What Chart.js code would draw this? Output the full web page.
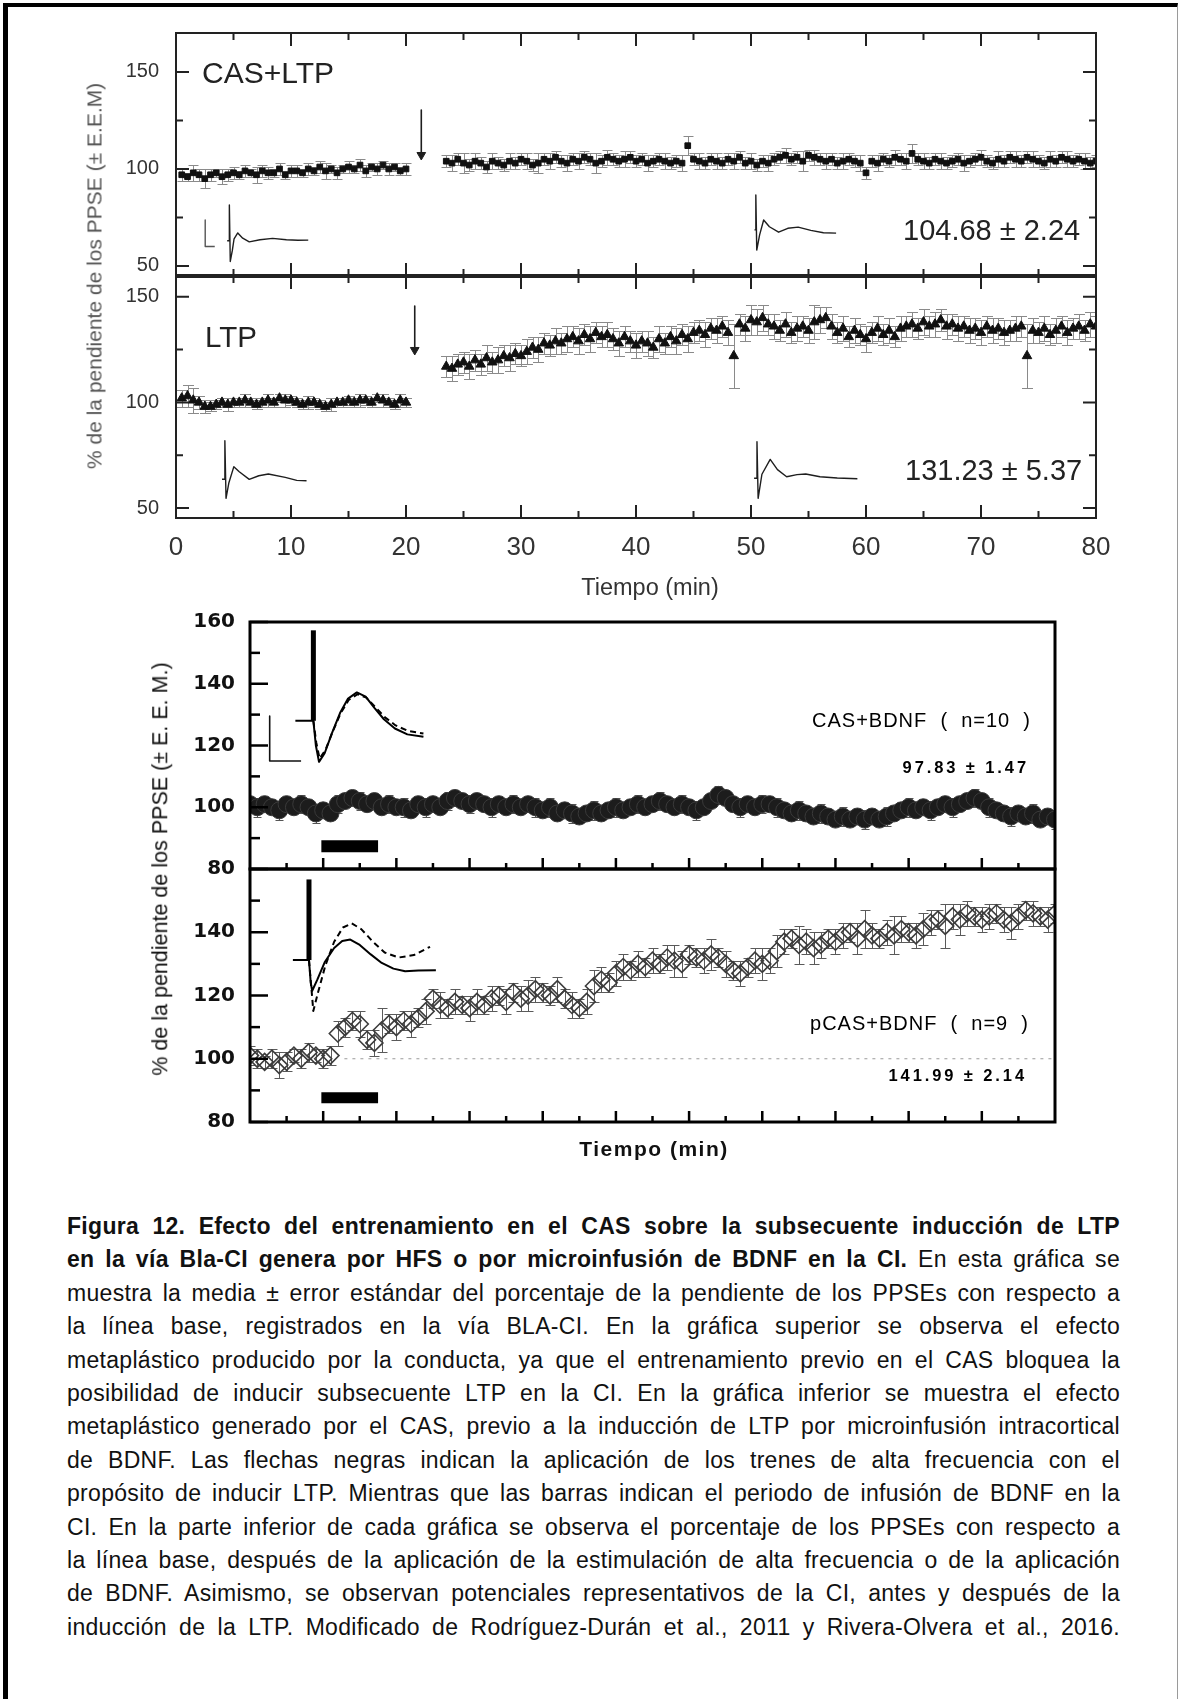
<!DOCTYPE html>
<html lang="es">
<head>
<meta charset="utf-8">
<title>Figura 12</title>
<script src="https://cdn.jsdelivr.net/npm/chart.js@4.4.1/dist/chart.umd.min.js"></script>
<style>
  html, body { margin: 0; padding: 0; background: #fff; }
  body { width: 1180px; height: 1699px; position: relative; overflow: hidden;
         font-family: "Liberation Sans", Arial, sans-serif; }
  .frame { position: absolute; left: 3px; top: 3px; width: 1169px; height: 1720px;
           border-left: 5px solid #000; border-top: 4px solid #000; border-right: 1px solid #9a9a9a; }
  canvas { position: absolute; left: 0; }
  .t { position: absolute; transform: translateY(-50%); line-height: 1; white-space: pre; color: #222; z-index: 5; }
  .c { position: absolute; transform: translate(-50%, -50%); line-height: 1; white-space: pre; z-index: 5; }
  .yt { position: absolute; transform: translate(-50%, -50%) rotate(-90deg); line-height: 1; white-space: pre; z-index: 5; }
  .bold { font-weight: bold; }
  .caption { position: absolute; left: 67px; top: 1210px; width: 1053px; font-size: 23px;
             letter-spacing: 0.3px; color: #111; }
  .caption div { height: 33.4px; line-height: 33.4px; text-align: justify; text-align-last: justify; }
</style>
</head>
<body>
<div class="frame"></div>

<!-- top figure -->
<div class="yt" style="left:94px;top:276px;font-size:21px;color:#555;">% de la pendiente de los PPSE (± E.E.M)</div>
<div class="t" style="left:202px;top:73px;font-size:30px;">CAS+LTP</div>
<div class="t" style="left:903px;top:230px;font-size:29px;">104.68 ± 2.24</div>
<div class="t" style="left:205px;top:337px;font-size:29.5px;">LTP</div>
<div class="t" style="left:905px;top:470px;font-size:29px;">131.23 ± 5.37</div>
<div class="c" style="left:650px;top:588px;font-size:23.5px;color:#333;">Tiempo (min)</div>

<!-- bottom figure -->
<div class="yt" style="left:161px;top:869px;font-size:21.5px;color:#111;">% de la pendiente de los PPSE (± E. E. M.)</div>
<div class="t" style="right:149px;top:720px;font-size:20px;letter-spacing:1px;color:#000;">CAS+BDNF  (  n=10  )</div>
<div class="t bold" style="right:151px;top:767px;font-size:16.5px;letter-spacing:2.9px;color:#000;">97.83 ± 1.47</div>
<div class="t" style="right:151px;top:1023px;font-size:20px;letter-spacing:1px;color:#000;">pCAS+BDNF  (  n=9  )</div>
<div class="t bold" style="right:153px;top:1075px;font-size:16.5px;letter-spacing:2.9px;color:#000;">141.99 ± 2.14</div>
<div class="c bold" style="left:654px;top:1148px;font-size:21px;letter-spacing:1.5px;color:#111;">Tiempo (min)</div>

<div class="caption">
  <div><b>Figura 12. Efecto del entrenamiento en el CAS sobre la subsecuente inducción de LTP</b></div>
  <div><b>en la vía Bla-CI genera por HFS o por microinfusión de BDNF en la CI.</b> En esta gráfica se</div>
  <div>muestra la media ± error estándar del porcentaje de la pendiente de los PPSEs con respecto a</div>
  <div>la línea base, registrados en la vía BLA-CI. En la gráfica superior se observa el efecto</div>
  <div>metaplástico producido por la conducta, ya que el entrenamiento previo en el CAS bloquea la</div>
  <div>posibilidad de inducir subsecuente LTP en la CI. En la gráfica inferior se muestra el efecto</div>
  <div>metaplástico generado por el CAS, previo a la inducción de LTP por microinfusión intracortical</div>
  <div>de BDNF. Las flechas negras indican la aplicación de los trenes de alta frecuencia con el</div>
  <div>propósito de inducir LTP. Mientras que las barras indican el periodo de infusión de BDNF en la</div>
  <div>CI. En la parte inferior de cada gráfica se observa el porcentaje de los PPSEs con respecto a</div>
  <div>la línea base, después de la aplicación de la estimulación de alta frecuencia o de la aplicación</div>
  <div>de BDNF. Asimismo, se observan potenciales representativos de la CI, antes y después de la</div>
  <div>inducción de la LTP. Modificado de Rodríguez-Durán et al., 2011 y Rivera-Olvera et al., 2016.</div>
</div>

<script>
// ---- top figure data (HFS) ----
const preTime = [0.5,1,1.5,2,2.5,3,3.5,4,4.5,5,5.5,6,6.5,7,7.5,8,8.5,9,9.5,10,
  10.5,11,11.5,12,12.5,13,13.5,14,14.5,15,15.5,16,16.5,17,17.5,18,18.5,19,19.5,20];
const postTime = [23.5,24,24.5,25,25.5,26,26.5,27,27.5,28,28.5,
  29,29.5,30,30.5,31,31.5,32,32.5,33,33.5,34,
  34.5,35,35.5,36,36.5,37,37.5,38,38.5,39,39.5,
  40,40.5,41,41.5,42,42.5,43,43.5,44,44.5,45,
  45.5,46,46.5,47,47.5,48,48.5,49,49.5,50,50.5,
  51,51.5,52,52.5,53,53.5,54,54.5,55,55.5,56,
  56.5,57,57.5,58,58.5,59,59.5,60,60.5,61,61.5,
  62,62.5,63,63.5,64,64.5,65,65.5,66,66.5,67,
  67.5,68,68.5,69,69.5,70,70.5,71,71.5,72,72.5,
  73,73.5,74,74.5,75,75.5,76,76.5,77,77.5,78,
  78.5,79,79.5,80];

const casLtpPre = [97,96,98,97,95,97,98,96,97,98, 97,99,98,97,99,98,98,100,97,99,
  99,98,100,99,101,99,100,98,100,101, 100,102,99,101,100,102,100,101,99,100];
const casLtpPreErr = [3,2,4,3,5,3,2,4,3,3, 2,3,2,4,3,3,2,3,2,3, 3,2,3,2,3,4,2,3,2,3, 2,3,3,2,3,2,3,2,2,3];
const casLtpPost = [104,103,105,103,102,104,103,101,104,103,102,
  104,103,105,104,102,103,105,104,106,104,103,
  105,104,106,105,103,104,106,105,104,105,106,
  104,105,103,104,105,104,103,104,103,112,105,
  104,103,105,104,103,105,104,106,103,104,102,
  104,103,105,106,107,105,106,104,107,106,105,
  104,105,103,104,105,104,103,98,104,103,105,
  104,106,105,104,108,105,104,103,105,104,103,
  104,105,103,104,105,106,104,103,105,104,106,
  105,104,106,105,104,103,105,104,106,105,104,
  105,104,103,104];
const casLtpPostErr = [3,4,3,5,3,4,3,3,4,3,3, 4,3,3,4,3,5,3,4,3,3,4, 3,4,3,3,5,3,4,3,3,4,3,
  3,3,4,3,3,4,3,3,4,5,3, 4,3,3,4,3,3,4,3,3,4,3, 3,4,3,3,4,3,3,5,3,4,3,
  4,3,3,4,3,3,4,3,3,4,3, 3,4,3,4,5,3,4,3,3,4,3, 3,3,4,3,3,4,3,3,4,3,3,
  4,3,3,4,3,3,4,3,3,4,3, 3,4,3,3];

const ltpPre = [102,103,101,100,98,98,99,100,99,100, 100,101,100,99,100,101,100,102,101,101,
  100,99,100,100,99,98,99,100,100,101, 100,101,101,100,102,101,100,99,101,100];
const ltpPreErr = [4,5,6,3,3,2,2,2,3,2, 2,3,2,2,2,3,2,2,3,2, 2,2,3,2,2,2,3,2,2,2, 2,3,2,2,2,3,2,2,3,2];
const ltpPost = [117,116,118,119,117,120,118,121,119,120,122,
  121,123,122,124,126,125,128,127,129,128,130,
  131,129,132,130,133,131,132,130,128,131,129,
  127,129,128,126,130,128,131,129,132,130,133,
  134,132,135,134,136,133,122,137,135,139,138,
  140,137,136,134,137,133,135,136,134,138,139,
  140,136,133,135,131,134,132,130,133,135,132,
  134,131,135,136,137,135,138,136,137,139,136,
  137,135,136,134,135,133,136,134,135,133,134,
  135,136,122,134,133,135,132,134,136,133,135,
  136,134,137,136];
const ltpPostErr = [5,6,5,5,6,5,5,6,5,6,5, 6,5,5,6,5,6,5,5,6,5,6, 5,6,5,6,5,5,6,5,6,5,5,
  6,5,6,5,6,5,5,6,5,6,5, 5,6,5,6,5,6,15,5,6,7,6, 6,5,6,5,6,5,6,5,6,8,6,
  5,6,5,6,5,6,5,6,5,6,5, 6,5,6,5,6,5,6,5,6,5,6, 5,6,5,6,5,6,5,6,5,6,5,
  6,5,15,6,5,6,5,6,5,6,5, 6,5,6,5];

// top figure axes
const topXLabels = [0,10,20,30,40,50,60,70,80];
const topXMinor = [5,15,25,35,45,55,65,75];
const topYLabels = [50,100,150];
const topYMinor = [75,125];

// top figure insets (x in min, y in %), HFS arrows
const traceA1 = [[4.45,63],[4.62,63],[4.64,81.4],[4.72,52.3],[4.9,58],[5.05,64],[5.37,67],[5.8,64.3],
  [6.37,62.4],[7.3,63.5],[8.4,64.2],[9.6,63.5],[10.6,63.2],[11.5,63.3]];
const traceA2 = [[50.3,68.6],[50.4,68.6],[50.42,86.6],[50.5,58.2],[50.75,66],[51.1,73.7],[51.6,70.2],
  [52.4,67.4],[53.2,69.4],[54.1,70],[55.2,68.3],[56.3,67.1],[57.4,66.9]];
const scaleBarA = [[2.54,73.7],[2.54,60],[3.37,60]];
const arrowA = [[21.33,130.4],[21.33,107]];
const arrowHeadA = [[21.33,107.2]];
const traceB1 = [[4.0,63.6],[4.22,63.6],[4.25,81.9],[4.35,54.6],[4.6,62],[5.03,69.6],[5.5,67.2],
  [6.37,63.6],[7.2,65.3],[8.03,66.1],[9.5,64.5],[10.5,63.1],[11.35,62.9]];
const traceB2 = [[50.27,64.1],[50.5,64.1],[50.52,81.4],[50.62,54.6],[50.95,66],[51.67,73],[52.3,68.2],
  [53.1,64.8],[54.0,65.8],[54.76,66.1],[56,64.8],[57.5,64.2],[59.25,63.9]];
const arrowB = [[20.76,145.6],[20.76,125]];
const arrowHeadB = [[20.76,124.8]];

// ---- bottom figure data (BDNF) ----
const bdnfTime = [0,1,2,3,4,5,6,7,8,9,10,11,12,13,14,15,16,17,18,19,20,
  21,22,23,24,25,26,27,28,29,30,31,32,33,34,35,36,37,38,39,40,
  41,42,43,44,45,46,47,48,49,50,51,52,53,54,55,56,57,58,59,60,
  61,62,63,64,65,66,67,68,69,70,71,72,73,74,75,76,77,78,79,80,
  81,82,83,84,85,86,87,88,89,90,91,92,93,94,95,96,97,98,99,100,
  101,102,103,104,105,106,107,108,109,110];
const casBdnf = [101,100,101,100,99,101,100,101,100,98,99,
  98,101,102,103,102,101,102,100,101,100,
  100,99,101,100,101,100,102,103,102,101,
  102,101,100,101,100,101,100,101,100,99,
  100,98,99,98,97,98,99,98,99,100,
  99,100,101,100,101,102,101,100,101,100,
  99,100,102,104,103,101,100,101,100,101,
  101,100,99,98,99,98,97,98,97,96,
  97,96,97,96,97,96,97,98,99,100,
  99,100,99,100,101,100,101,102,103,102,
  100,99,98,97,98,97,98,96,97,96];
const casBdnfErr = [2,3,2,2,3,2,2,3,2,3,2, 2,3,2,2,3,2,2,2,3,2, 3,2,2,3,2,2,3,2,2,3,
  2,2,3,2,2,3,2,2,3,2, 3,2,2,3,2,2,3,2,2,3, 2,2,3,2,2,3,2,2,3,2, 3,2,2,3,2,2,3,2,2,3,
  2,3,2,2,3,2,2,3,2,2, 3,2,2,3,2,2,3,2,2,3, 2,2,3,2,2,3,2,2,3,2, 3,2,2,3,2,2,3,2,2,3];
const pCasBdnf = [101,100,99,100,98,99,101,100,102,101,100,
  101,108,110,112,111,106,105,109,111,110,
  112,111,113,115,119,117,116,118,117,116,
  118,117,119,120,118,121,119,120,122,121,
  120,122,119,117,116,118,123,125,124,127,
  129,128,130,129,131,130,132,131,130,133,
  132,131,133,132,130,128,127,129,131,130,
  131,134,137,138,136,137,135,136,138,137,
  139,140,138,141,139,138,140,139,141,140,
  139,141,143,144,142,145,144,146,145,144,
  145,146,144,143,145,147,146,145,144,146];
const pCasBdnfErr = [3,3,2,3,4,3,2,3,3,2,3, 3,4,3,3,4,3,4,7,3,4, 3,4,3,4,3,4,3,4,3,4,
  4,3,4,3,4,3,4,5,4,3, 3,4,3,4,3,4,5,4,3,4, 4,3,4,3,4,3,4,5,4,3, 3,4,5,3,4,3,4,3,4,5,
  4,5,4,3,6,4,5,4,3,4, 4,3,5,6,4,3,4,6,4,3, 4,5,4,3,7,4,5,4,3,4, 4,3,4,5,4,3,4,3,4,3];

const botXMajor = [10,20,30,40,50,60,70,80,90,100];
const botXMinor = [5,15,25,35,45,55,65,75,85,95,105];
const botYLabelsC = [80,100,120,140,160];
const botYLabelsD = [80,100,120,140];
const botYMinor = [90,110,130,150];

// bottom figure insets
const traceCSolid = [[6.2,128],[8.66,128],[9.0,120],[9.43,114.7],[10.2,117.5],[11.2,124],[12.3,130.5],
  [13.4,135.2],[14.6,137.2],[15.8,135.8],[17,132.2],[18.3,128.5],[19.8,125.5],[21.5,123.6],[23.7,122.8]];
const traceCDash = [[8.66,128],[9.05,121],[9.5,115.8],[10.3,118.5],[11.3,124.5],[12.4,130.5],[13.5,134.8],
  [14.7,136.6],[15.9,135.5],[17.1,132.5],[18.4,129.2],[19.9,126.5],[21.6,124.7],[23.7,123.9]];
const artifactC = [[8.66,128],[8.66,157.3]];
const scaleBarC = [[2.69,129.5],[2.69,115],[6.98,115]];
const infusionC = [[9.75,87.4],[17.5,87.4]];
const traceDSolid = [[5.86,131.2],[8.06,131.2],[8.3,124],[8.5,121.5],[9.2,125],[10.2,130.5],[11.5,135],
  [12.6,137.2],[13.7,137.7],[15,136],[16.5,133],[18,130.3],[19.6,128.5],[21.2,127.7],[23,127.9],[25.4,128]];
const traceDDash = [[8.06,131.2],[8.4,122],[8.65,115.1],[9.3,121],[10.3,129.5],[11.5,137],[12.7,141.5],
  [13.9,142.8],[15.2,141],[16.8,137],[18.4,133.6],[20.3,132],[22.4,132.8],[24.6,135.4]];
const artifactD = [[8.06,131.2],[8.06,156.7]];
const infusionD = [[9.75,87.7],[17.5,87.7]];
const baselineD = [[12.9,100],[110,100]];

// ---- helpers ----
Chart.defaults.font.family = "'Liberation Sans', Arial, sans-serif";

const pts = (xs, ys) => xs.map((x, i) => ({x: x, y: ys[i]}));
const pairs = (arr) => arr.map(p => ({x: p[0], y: p[1]}));

function markers(xs, ys, errs, style) {
  return Object.assign({
    data: pts(xs, ys), errors: errs, showLine: false,
    pointBorderWidth: 1, pointHoverRadius: 0
  }, style);
}

function path(arr, color, width, dash) {
  return {
    data: pairs(arr), borderColor: color, borderWidth: width, borderDash: dash || [],
    pointRadius: 0, pointHoverRadius: 0, fill: false, tension: 0,
    borderCapStyle: 'butt', borderJoinStyle: 'round'
  };
}

function head(arr, color, r) {
  return {
    data: pairs(arr), showLine: false, pointStyle: 'triangle', pointRotation: 180,
    pointRadius: r, pointBackgroundColor: color, pointBorderColor: color, pointBorderWidth: 1
  };
}

// frame, inward ticks and error bars, all placed through the chart scales
function makeDecor(d) {
  return {
    id: 'decor',
    beforeDatasetsDraw(chart) {
      const {ctx, chartArea: a, scales: {x, y}} = chart;
      ctx.save();
      ctx.beginPath();
      ctx.rect(a.left, a.top, a.right - a.left, a.bottom - a.top);
      ctx.clip();
      chart.data.datasets.forEach(ds => {
        if (!ds.errors) return;
        ctx.strokeStyle = ds.errorColor;
        ctx.lineWidth = 1;
        const half = ds.errorCap / 2;
        ds.data.forEach((p, j) => {
          const px = Math.round(x.getPixelForValue(p.x)) + 0.5;
          const hi = Math.round(y.getPixelForValue(p.y + ds.errors[j])) + 0.5;
          const lo = Math.round(y.getPixelForValue(p.y - ds.errors[j])) + 0.5;
          ctx.beginPath();
          ctx.moveTo(px, hi); ctx.lineTo(px, lo);
          ctx.moveTo(px - half, hi); ctx.lineTo(px + half, hi);
          ctx.moveTo(px - half, lo); ctx.lineTo(px + half, lo);
          ctx.stroke();
        });
      });
      ctx.restore();
    },
    afterDatasetsDraw(chart) {
      const {ctx, chartArea: a, scales: {x, y}} = chart;
      ctx.save();
      ctx.strokeStyle = d.color;
      ctx.lineWidth = d.tickWidth;
      const xt = (vals, len) => vals.forEach(v => {
        const px = x.getPixelForValue(v);
        ctx.beginPath();
        if (d.xSides.includes('bottom')) { ctx.moveTo(px, a.bottom); ctx.lineTo(px, a.bottom - len); }
        if (d.xSides.includes('top')) { ctx.moveTo(px, a.top); ctx.lineTo(px, a.top + len); }
        ctx.stroke();
      });
      const yt = (vals, len) => vals.forEach(v => {
        const py = y.getPixelForValue(v);
        ctx.beginPath();
        if (d.ySides.includes('left')) { ctx.moveTo(a.left, py); ctx.lineTo(a.left + len, py); }
        if (d.ySides.includes('right')) { ctx.moveTo(a.right, py); ctx.lineTo(a.right - len, py); }
        ctx.stroke();
      });
      xt(d.xMajor, d.xMajorLen); xt(d.xMinor, d.xMinorLen);
      yt(d.yMajor, d.yMajorLen); yt(d.yMinor, d.yMinorLen);
      ctx.lineWidth = d.frameWidth;
      ctx.strokeRect(a.left, a.top, a.right - a.left, a.bottom - a.top);
      if (d.bottomWidth) {
        ctx.lineWidth = d.bottomWidth;
        ctx.beginPath(); ctx.moveTo(a.left, a.bottom); ctx.lineTo(a.right, a.bottom); ctx.stroke();
      }
      ctx.restore();
    }
  };
}

const PAD = 40;

function buildPanel(area, cfg) {
  const xH = cfg.xLabels ? 70 : 0;
  const padBottom = cfg.xLabels ? 0 : PAD;
  const h = PAD + (area.bottom - area.top) + padBottom + xH;
  const canvas = document.createElement('canvas');
  canvas.width = 1180; canvas.height = h;
  canvas.style.width = '1180px'; canvas.style.height = h + 'px';
  canvas.style.top = (area.top - PAD) + 'px';
  document.body.appendChild(canvas);

  const xScale = {
    type: 'linear', min: cfg.xMin, max: cfg.xMax, display: !!cfg.xLabels,
    grid: {display: false, drawTicks: false}, border: {display: false}
  };
  if (cfg.xLabels) {
    xScale.afterFit = s => { s.height = xH; };
    xScale.afterBuildTicks = s => { s.ticks = cfg.xLabels.map(v => ({value: v})); };
    xScale.ticks = {font: {size: 26}, color: '#333', padding: 14, maxRotation: 0, autoSkip: false};
  }

  new Chart(canvas, {
    type: 'line',
    data: {datasets: cfg.datasets},
    options: {
      responsive: false, animation: false, events: [],
      layout: {padding: {left: 0, right: 1180 - area.right, top: PAD, bottom: padBottom}},
      plugins: {legend: {display: false}, tooltip: {enabled: false}},
      scales: {
        x: xScale,
        y: {
          type: 'linear', min: cfg.yMin, max: cfg.yMax,
          grid: {display: false, drawTicks: false}, border: {display: false},
          afterFit: s => { s.width = area.left; },
          afterBuildTicks: s => { s.ticks = cfg.yLabels.map(v => ({value: v})); },
          ticks: {font: cfg.yFont, color: cfg.yColor, padding: cfg.yPad, autoSkip: false}
        }
      }
    },
    plugins: [makeDecor(cfg.decor)]
  });
}

const ink = '#1e1e1e';
const topDecor = (xSides, bottomWidth) => ({
  color: '#222', tickWidth: 2, frameWidth: 2, bottomWidth: bottomWidth,
  xMajor: topXLabels, xMinor: topXMinor, xSides: xSides, xMajorLen: 13, xMinorLen: 7,
  yMajor: topYLabels, yMinor: topYMinor, ySides: ['left', 'right'], yMajorLen: 13, yMinorLen: 7
});
const botDecor = (yMajor) => ({
  color: '#000', tickWidth: 2.5, frameWidth: 3,
  xMajor: botXMajor, xMinor: botXMinor, xSides: ['bottom'], xMajorLen: 11, xMinorLen: 6,
  yMajor: yMajor, yMinor: botYMinor, ySides: ['left'], yMajorLen: 18, yMinorLen: 10
});

const squareStyle = {pointStyle: 'rect', pointRadius: 4, pointBackgroundColor: '#111', pointBorderColor: '#111',
  errorColor: '#8a8a8a', errorCap: 10};
const triStyle = {pointStyle: 'triangle', pointRadius: 5.5, pointBackgroundColor: '#111', pointBorderColor: '#111',
  errorColor: '#8a8a8a', errorCap: 11};
const circleStyle = {pointStyle: 'circle', pointRadius: 8.5, pointBackgroundColor: '#1c1c1c', pointBorderColor: '#3a3a3a',
  errorColor: '#555', errorCap: 8};
const diamondStyle = {pointStyle: 'rectRot', pointRadius: 8.5, pointBackgroundColor: 'rgba(0,0,0,0)',
  pointBorderColor: '#3c3c3c', pointBorderWidth: 1.6, errorColor: '#5a5a5a', errorCap: 10};

// panel A: CAS+LTP
buildPanel({left: 176, right: 1096, top: 33, bottom: 276}, {
  xMin: 0, xMax: 80, yMin: 44.8, yMax: 170.1, yLabels: topYLabels,
  yFont: {size: 20}, yColor: '#333', yPad: 17,
  decor: topDecor(['top', 'bottom'], 4),
  datasets: [
    markers(preTime, casLtpPre, casLtpPreErr, squareStyle),
    markers(postTime, casLtpPost, casLtpPostErr, squareStyle),
    path(traceA1, ink, 1.4), path(traceA2, ink, 1.4), path(scaleBarA, '#555', 1.4),
    path(arrowA, ink, 1.6), head(arrowHeadA, ink, 5)
  ]
});

// panel B: LTP
buildPanel({left: 176, right: 1096, top: 276, bottom: 518}, {
  xMin: 0, xMax: 80, yMin: 45.3, yMax: 159.8, yLabels: topYLabels, xLabels: topXLabels,
  yFont: {size: 20}, yColor: '#333', yPad: 17,
  decor: topDecor(['top', 'bottom']),
  datasets: [
    markers(preTime, ltpPre, ltpPreErr, triStyle),
    markers(postTime, ltpPost, ltpPostErr, triStyle),
    path(traceB1, ink, 1.4), path(traceB2, ink, 1.4),
    path(arrowB, ink, 1.6), head(arrowHeadB, ink, 5)
  ]
});

// panel C: CAS+BDNF
buildPanel({left: 250, right: 1055, top: 622, bottom: 869}, {
  xMin: 0, xMax: 110, yMin: 80, yMax: 160, yLabels: botYLabelsC,
  yFont: {size: 20, weight: 'bold', family: "'DejaVu Sans', sans-serif"}, yColor: '#111', yPad: 15,
  decor: botDecor(botYLabelsC),
  datasets: [
    markers(bdnfTime, casBdnf, casBdnfErr, circleStyle),
    path(traceCSolid, '#000', 2), path(traceCDash, '#000', 2, [6, 4]),
    path(artifactC, '#000', 5), path(scaleBarC, '#111', 1.6),
    path(infusionC, '#000', 12)
  ]
});

// panel D: pCAS+BDNF
buildPanel({left: 250, right: 1055, top: 869, bottom: 1122}, {
  xMin: 0, xMax: 110, yMin: 80, yMax: 160, yLabels: botYLabelsD,
  yFont: {size: 20, weight: 'bold', family: "'DejaVu Sans', sans-serif"}, yColor: '#111', yPad: 15,
  decor: botDecor(botYLabelsD),
  datasets: [
    markers(bdnfTime, pCasBdnf, pCasBdnfErr, diamondStyle),
    path(traceDSolid, '#000', 2), path(traceDDash, '#000', 2, [6, 4]),
    path(artifactD, '#000', 5), path(infusionD, '#000', 11),
    path(baselineD, '#9a9a9a', 1, [3, 5])
  ]
});
</script>
</body>
</html>
